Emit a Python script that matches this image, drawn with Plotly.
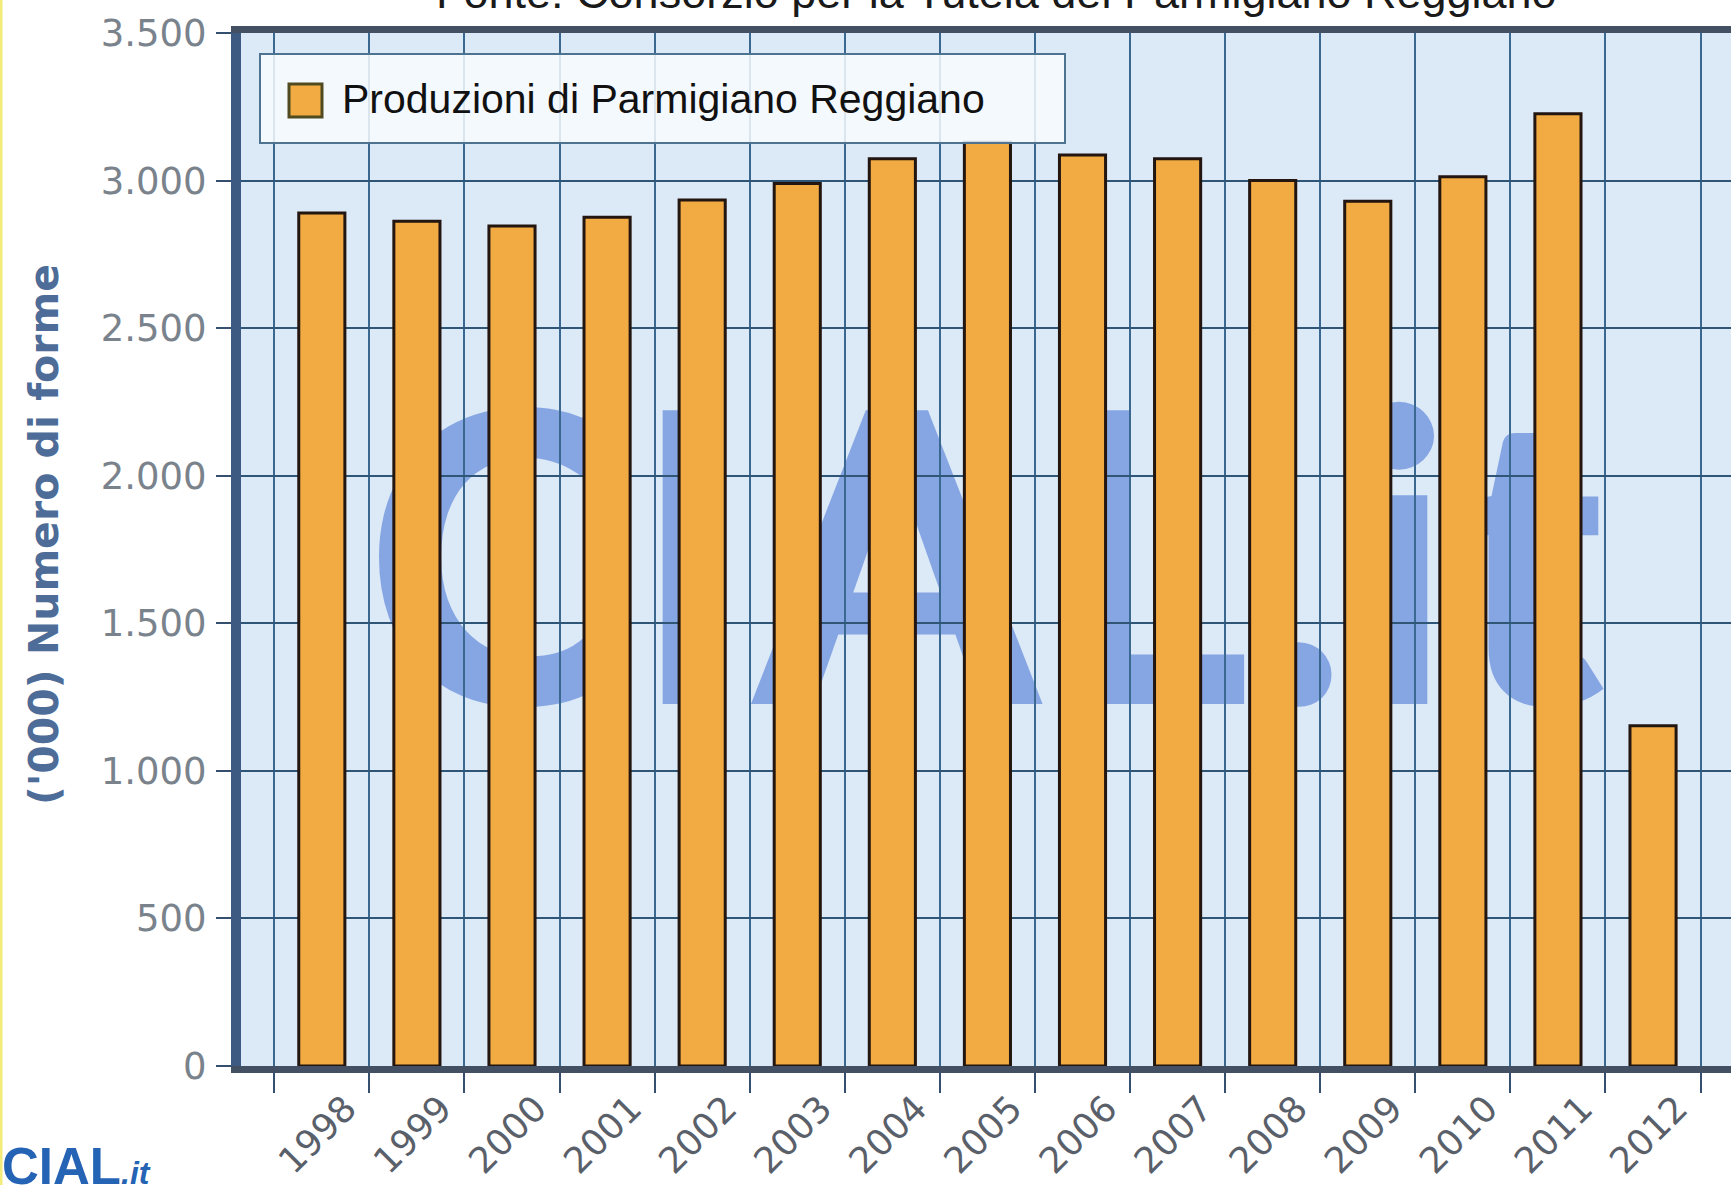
import plotly.graph_objects as go

years = ["1998", "1999", "2000", "2001", "2002", "2003", "2004", "2005",
         "2006", "2007", "2008", "2009", "2010", "2011", "2012"]
production = [2890, 2862, 2846, 2876, 2934, 2990, 3074, 3130,
              3087, 3074, 3000, 2930, 3013, 3226, 1153]
y_ticks = [0, 500, 1000, 1500, 2000, 2500, 3000, 3500]

series_name = "Produzioni di Parmigiano Reggiano"
y_title = "('000) Numero di forme"
source_text = "Fonte: Consorzio per la Tutela del Parmigiano Reggiano"
watermark = "CIAL.it"

W, H = 1731, 1185
L, R, T, B = 241, 0, 33, 119
PW, PH = W - L - R, H - T - B


def px(xp):
    return (xp - L) / PW


def py(yp):
    return (H - B - yp) / PH


fig = go.Figure()
fig.add_trace(go.Bar(
    x=years, y=production, name=series_name,
    marker=dict(color="#f1ab42", line=dict(color="#231510", width=3)),
    showlegend=False,
))

grid_col = "#2f5676"

fig.update_layout(
    width=W, height=H,
    margin=dict(l=L, r=R, t=T, b=B, pad=0, autoexpand=False),
    paper_bgcolor="white",
    plot_bgcolor="#dce9f7",
    bargap=0.515,
    separators=",.",
    xaxis=dict(
        type="category", range=[-0.85, 14.82], automargin=False,
        tickson="boundaries", ticks="outside", ticklen=20, tickwidth=2, tickcolor="#34506e",
        showgrid=True, gridcolor="#3a6890", gridwidth=2,
        showline=True, linecolor="#434f63", linewidth=7, mirror=True,
        tickangle=-45, ticklabelshift=24,
        tickfont=dict(family="DejaVu Sans", size=36, color="#5a606a"),
    ),
    yaxis=dict(
        range=[0, 3500], tickvals=y_ticks, tickformat=",d", automargin=False,
        ticks="outside", ticklen=15, tickwidth=2, tickcolor="#34506e",
        showgrid=True, gridcolor=grid_col, gridwidth=2,
        showline=True, linecolor="#3d5a82", linewidth=10,
        zeroline=False, ticklabelstandoff=2,
        tickfont=dict(family="DejaVu Sans", size=37, color="#7a838c"),
    ),
    shapes=[
        # watermark behind bars
        dict(type="rect", xref="paper", yref="paper",
             x0=px(435), x1=px(1535), y0=py(732), y1=py(352),
             line=dict(width=0), fillcolor="rgba(0,0,0,0)", layer="below",
             label=dict(text=watermark, textposition="middle center",
                        font=dict(family="Lato", size=405, weight=900,
                                  color="rgba(110,148,222,0.78)"))),
        # legend box
        dict(type="rect", xref="paper", yref="paper",
             x0=px(260), x1=px(1065), y0=py(143), y1=py(54),
             line=dict(color="#4d7391", width=2), fillcolor="rgba(248,251,255,0.85)", layer="above"),
        dict(type="rect", xref="paper", yref="paper",
             x0=px(289), x1=px(322), y0=py(117), y1=py(84),
             line=dict(color="#4f4a20", width=3), fillcolor="#f1ab42", layer="above"),
        # thin yellow left edge of the picture
        dict(type="line", xref="paper", yref="paper",
             x0=px(1), x1=px(1), y0=py(H), y1=py(0),
             line=dict(color="#f4ec7a", width=3)),
    ],
    annotations=[
        dict(text=series_name, xref="paper", yref="paper", x=px(340), y=py(99),
             xanchor="left", yanchor="middle", showarrow=False,
             font=dict(family="Liberation Sans", size=41, color="#111111")),
        dict(text=y_title, xref="paper", yref="paper", x=px(44), y=py(535),
             xanchor="center", yanchor="middle", textangle=-90, showarrow=False,
             font=dict(family="DejaVu Sans", size=41, color="#4e6c98", weight="bold")),
        dict(text=source_text, xref="paper", yref="paper", x=px(996), y=py(-8),
             xanchor="center", yanchor="middle", showarrow=False,
             font=dict(family="Liberation Sans", size=45, color="#1a1a1a")),
        dict(text="<b>CIAL</b><span style='font-size:32px'><b><i>.it</i></b></span>",
             xref="paper", yref="paper", x=px(0), y=py(1136),
             xanchor="left", yanchor="top", showarrow=False,
             font=dict(family="Liberation Sans", size=51, color="#2563b4")),
    ],
)

fig.write_html("out.html", config={"displayModeBar": False},
               post_script="document.body.style.margin='0';document.body.style.padding='0';")
